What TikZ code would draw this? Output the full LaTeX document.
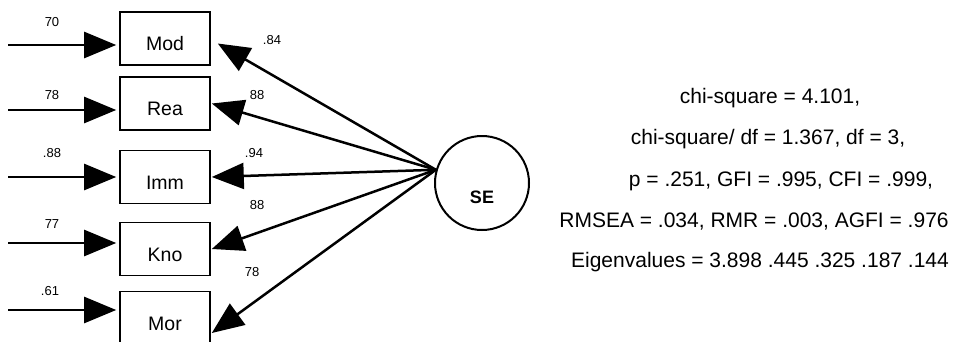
\documentclass[tikz,border=0pt]{standalone}
\usepackage{fontspec}
\setmainfont{Liberation Sans}
\usetikzlibrary{arrows.meta}

\def\bw{1.6pt}
\def\aw{2.5pt}

\tikzset{
  item/.style={draw, line width=\bw, minimum width=90pt, minimum height=53pt,
    inner sep=0pt, font=\fontsize{19.5}{22}\selectfont,
    text height=24pt, text depth=0pt},
  factor/.style={draw, circle, line width=2pt, minimum size=94pt, inner sep=0pt,
    font=\fontsize{18}{20}\selectfont\bfseries, text height=41pt, text depth=0pt},
  load/.style={-{Triangle[length=32pt,width=26pt]}, line width=\aw},
  coef/.style={font=\fontsize{13}{15}\selectfont, inner sep=0pt},
  stat/.style={font=\fontsize{21}{24}\selectfont, inner sep=0pt}
}

\begin{document}
\begin{tikzpicture}[x=1pt,y=-1pt]
\useasboundingbox (0,0) rectangle (956,341);
% observed items
\node[item] (Mod) at (165,38.5) {Mod};
\node[item] (Rea) at (165,103.5) {Rea};
\node[item] (Imm) at (165,177) {Imm};
\node[item] (Kno) at (165,249) {Kno};
\node[item] (Mor) at (165,318) {Mor};
% latent factor
\node[factor] (SE) at (482,183) {SE};
% error terms
\coordinate (eMod) at (8,45);
\coordinate (eRea) at (8,110);
\coordinate (eImm) at (8,177);
\coordinate (eKno) at (8,243);
\coordinate (eMor) at (8,310);
\foreach \v in {Mod,Rea,Imm,Kno,Mor}
  \draw [load] (e\v) -- ([xshift=-3pt]e\v -| \v.west);
\node[coef] (cMod) at (52,22) {70};
\node[coef] (cRea) at (52,95) {78};
\node[coef] (cImm) at (52,153) {.88};
\node[coef] (cKno) at (52,224) {77};
\node[coef] (cMor) at (50,291) {.61};
% loadings
\draw [load] (SE.164) -- ([xshift=7pt,yshift=-5pt]Mod.east);
\draw [load] (SE.164) -- ([xshift=1pt]Rea.east);
\draw [load] (SE.164) -- ([xshift=1pt]Imm.east);
\draw [load] (SE.164) -- ([xshift=1pt]Kno.east);
\draw [load] (SE.164) -- ([xshift=1pt,yshift=-15pt]Mor.east);
\node[coef] (lMod) at (272,40) {.84};
\node[coef] (lRea) at (257,95) {88};
\node[coef] (lImm) at (254,153) {.94};
\node[coef] (lKno) at (257,205) {88};
\node[coef] (lMor) at (252,272) {78};
% fit indices
\node[stat] (s1) at (770,98) {chi-square = 4.101,};
\node[stat] (s2) at (768,139) {chi-square/ df = 1.367, df = 3,};
\node[stat] (s3) at (781,181) {p = .251, GFI = .995, CFI = .999,};
\node[stat] (s4) at (754,222) {RMSEA = .034, RMR = .003, AGFI = .976};
\node[stat] (s5) at (760,262) {Eigenvalues = 3.898 .445 .325 .187 .144};
\end{tikzpicture}
\end{document}
